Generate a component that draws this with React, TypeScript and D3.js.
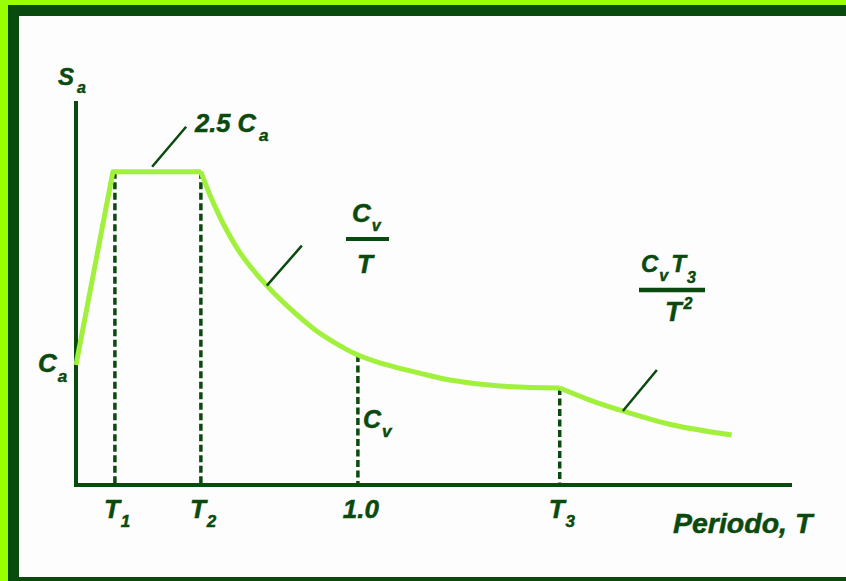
import React from "react";
import * as d3 from "d3";

const W = 846;
const H = 581;
const DARK = "#0b4a0e";
const LIME = "#99ff00";
const CURVE = "#a0f03c";
const FONT = "'Liberation Sans', Arial, sans-serif";

// period T (x) and Sa in units of Ca (y)
const riseT = [0, 0.131, 0.443];
const riseSa = [1.0, 2.61, 2.61];
const cvOverT_T = [0.443, 0.482, 0.528, 0.589, 0.677, 0.752, 0.851, 0.961, 1.0, 1.078, 1.245, 1.326, 1.504, 1.716];
const cvOverT_Sa = [2.61, 2.379, 2.152, 1.911, 1.661, 1.486, 1.288, 1.128, 1.083, 1.017, 0.917, 0.875, 0.825, 0.808];
const tailT = [1.716, 1.823, 1.94, 2.117, 2.326];
const tailSa = [0.808, 0.708, 0.617, 0.5, 0.417];

// marked periods on the x axis
const tickT = [0.138, 0.443, 1.0, 1.716];
const tickSa = [2.61, 2.61, 1.083, 0.808];
const tickMain = ["T", "T", "1.0", "T"];
const tickSub = ["1", "2", "", "3"];

const x = d3.scaleLinear().domain([0, 2.54]).range([76, 792]);
const y = d3.scaleLinear().domain([0, 3.2]).range([485, 101]);

const zip = (a: number[], b: number[]) => a.map((v, i) => [v, b[i]] as [number, number]);

const straight = d3
  .line<[number, number]>()
  .x((d) => x(d[0]))
  .y((d) => y(d[1]));
const smooth = d3
  .line<[number, number]>()
  .x((d) => x(d[0]))
  .y((d) => y(d[1]))
  .curve(d3.curveCatmullRom.alpha(0.5));

const txt = {
  fontFamily: FONT,
  fontWeight: "bold" as const,
  fontStyle: "italic" as const,
  fill: DARK,
  stroke: DARK,
  strokeWidth: 0.5,
};

export default function App() {
  const rise = straight(zip(riseT, riseSa)) || "";
  const mid = smooth(zip(cvOverT_T, cvOverT_Sa)) || "";
  const tail = smooth(zip(tailT, tailSa)) || "";

  return (
    <svg
      width={W}
      height={H}
      style={{ position: "absolute", left: 0, top: 0, display: "block", background: "#fdfdfd" }}
    >
      {/* frame */}
      <rect x={0} y={0} width={W} height={5} fill={LIME} />
      <rect x={0} y={0} width={8} height={H} fill={LIME} />
      <rect x={8} y={5} width={W - 8} height={11} fill={DARK} />
      <rect x={8} y={5} width={11} height={H - 5} fill={DARK} />
      <rect x={8} y={577} width={W - 8} height={4} fill={DARK} />

      {/* axes */}
      <line x1={x(0)} x2={x(0)} y1={y(3.2)} y2={y(0) + 2} stroke={DARK} strokeWidth={4} />
      <line x1={x(0) - 2} x2={x(2.54)} y1={y(0)} y2={y(0)} stroke={DARK} strokeWidth={4} />

      {/* dashed drop lines */}
      {tickT.map((t, i) => (
        <line
          key={"d" + i}
          x1={x(t)}
          x2={x(t)}
          y1={y(tickSa[i])}
          y2={y(0)}
          stroke={DARK}
          strokeWidth={3.5}
          strokeDasharray="7,3.5"
        />
      ))}

      {/* spectrum */}
      <g fill="none" stroke={CURVE} strokeWidth={5} strokeLinejoin="round" strokeLinecap="butt">
        <path d={rise} />
        <path d={mid} />
        <path d={tail} />
      </g>

      {/* tick labels */}
      {tickT.map((t, i) =>
        tickSub[i] ? (
          <text key={"t" + i} x={x(t) - 11} y={518} fontSize={26} {...txt}>
            {tickMain[i]}
            <tspan fontSize={17} dx={1} dy={9}>
              {tickSub[i]}
            </tspan>
          </text>
        ) : (
          <text key={"t" + i} x={x(t) + 3} y={518} fontSize={26} textAnchor="middle" {...txt}>
            {tickMain[i]}
          </text>
        )
      )}

      {/* axis titles */}
      <text x={58} y={85} fontSize={24} {...txt}>
        S<tspan fontSize={16} dx={3} dy={8}>a</tspan>
      </text>
      <text x={673} y={533} fontSize={28.5} {...txt}>
        Periodo, T
      </text>

      {/* Ca and Cv labels */}
      <text x={38} y={372} fontSize={26} {...txt}>
        C<tspan fontSize={17} dx={1} dy={10}>a</tspan>
      </text>
      <text x={363} y={428} fontSize={25} {...txt}>
        C<tspan fontSize={17} dx={1} dy={9}>v</tspan>
      </text>

      {/* leader lines */}
      <g stroke={DARK} strokeWidth={2.5}>
        <line x1={x(0.27)} y1={y(2.61) - 5} x2={x(0.27) + 34} y2={y(2.61) - 45} />
        <line x1={x(0.677)} y1={y(1.661)} x2={x(0.677) + 35} y2={y(1.661) - 40} />
        <line x1={x(1.94)} y1={y(0.617)} x2={x(1.94) + 34} y2={y(0.617) - 41} />
      </g>

      {/* formulas */}
      <text x={195} y={132} fontSize={25.5} {...txt}>
        2.5 C<tspan fontSize={17} dx={3} dy={9}>a</tspan>
      </text>

      <text x={352} y={222} fontSize={26} {...txt}>
        C<tspan fontSize={16} dx={1} dy={9}>v</tspan>
      </text>
      <line x1={346} x2={389} y1={239} y2={239} stroke={DARK} strokeWidth={4} />
      <text x={357} y={273} fontSize={26} {...txt}>
        T
      </text>

      <text x={641} y={272} fontSize={24} {...txt}>
        C<tspan fontSize={16} dx={1} dy={9}>v</tspan>
        <tspan dx={3} dy={-9}>T</tspan>
        <tspan fontSize={16} dx={1} dy={11}>3</tspan>
      </text>
      <line x1={639} x2={705} y1={290} y2={290} stroke={DARK} strokeWidth={4.5} />
      <text x={665} y={321} fontSize={27} {...txt}>
        T<tspan fontSize={16} dx={2} dy={-12}>2</tspan>
      </text>
    </svg>
  );
}
